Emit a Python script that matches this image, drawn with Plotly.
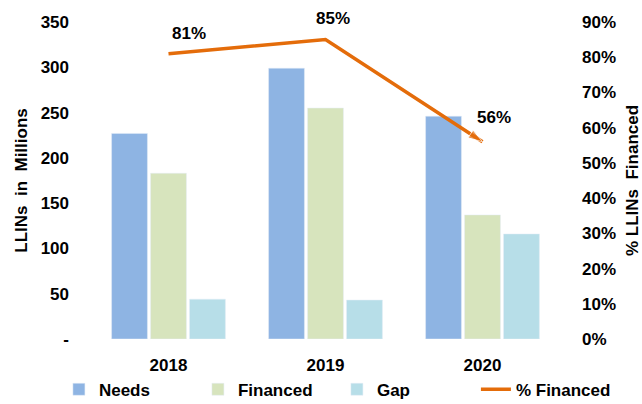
import plotly.graph_objects as go

years = ["2018", "2019", "2020"]
needs = [227, 299, 246]
financed = [183, 255, 137]
gap = [44, 43, 116]
pct_financed = [81, 85, 56]
pct_labels = ["81%", "85%", "56%"]
left_tickvals = [0, 50, 100, 150, 200, 250, 300, 350]
left_ticktext = ["-", "50", "100", "150", "200", "250", "300", "350"]
right_tickvals = [0, 10, 20, 30, 40, 50, 60, 70, 80, 90]
right_ticktext = ["0%", "10%", "20%", "30%", "40%", "50%", "60%", "70%", "80%", "90%"]

FONT = "Liberation Sans, Arial, sans-serif"
BLACK = "#000000"
ORANGE = "#E46C0A"
FS = 17

fig = go.Figure()
fig.add_trace(go.Bar(name="Needs", x=years, y=needs, marker_color="#8EB4E3"))
fig.add_trace(go.Bar(name="Financed", x=years, y=financed, marker_color="#D7E4BD"))
fig.add_trace(go.Bar(name="Gap", x=years, y=gap, marker_color="#B7DEE8"))
fig.add_trace(go.Scatter(name="% Financed", x=years, y=pct_financed, yaxis="y2",
                         mode="lines", line=dict(color=ORANGE, width=3.5)))
fig.add_trace(go.Scatter(x=years, y=pct_financed, yaxis="y2", mode="markers",
                         showlegend=False, hoverinfo="skip",
                         marker=dict(symbol="arrow", angleref="previous",
                                     size=[0, 0, 15], color=ORANGE)))

shifts = [(20, 20), (7, 21), (11, 24)]
for i, (v, lab) in enumerate(zip(pct_financed, pct_labels)):
    fig.add_annotation(x=i, y=v, xref="x", yref="y2", text=lab, showarrow=False,
                       xshift=shifts[i][0], yshift=shifts[i][1],
                       font=dict(family=FONT, size=FS, color=BLACK, weight="bold"))

fig.update_layout(
    width=642, height=404,
    margin=dict(l=90, r=81, t=22, b=65, autoexpand=False),
    paper_bgcolor="white", plot_bgcolor="white",
    font=dict(family=FONT, size=FS, color=BLACK, weight="bold"),
    barmode="group", bargap=0.255, bargroupgap=0.08,
    showlegend=True,
    legend=dict(orientation="h", x=-0.066, xanchor="left", y=-0.16, yanchor="middle",
                font=dict(family=FONT, size=FS, color=BLACK, weight="bold"),
                entrywidth=94, traceorder="normal"),
    xaxis=dict(type="category", range=[-0.5, 2.5], showgrid=False, showline=False,
               zeroline=False, ticks="", ticklabelstandoff=14),
    yaxis=dict(range=[0, 350], tickvals=left_tickvals, ticktext=left_ticktext,
               showgrid=False, zeroline=False, showline=False, ticks="",
               ticklabelstandoff=20, automargin=False,
               title=dict(text="LLINs  in  Millions", standoff=8,
                          font=dict(size=FS, weight="bold"))),
    yaxis2=dict(range=[0, 90], tickvals=right_tickvals, ticktext=right_ticktext,
                overlaying="y", side="right", showgrid=False, zeroline=False,
                showline=False, ticks="", ticklabelstandoff=20, automargin=False,
                title=dict(text="% LLINs  Financed", standoff=11,
                           font=dict(size=FS, weight="bold"))),
)

fig.write_html("out.html", config={"displayModeBar": False},
               post_script="document.body.style.margin='0';document.body.style.overflow='hidden';")
